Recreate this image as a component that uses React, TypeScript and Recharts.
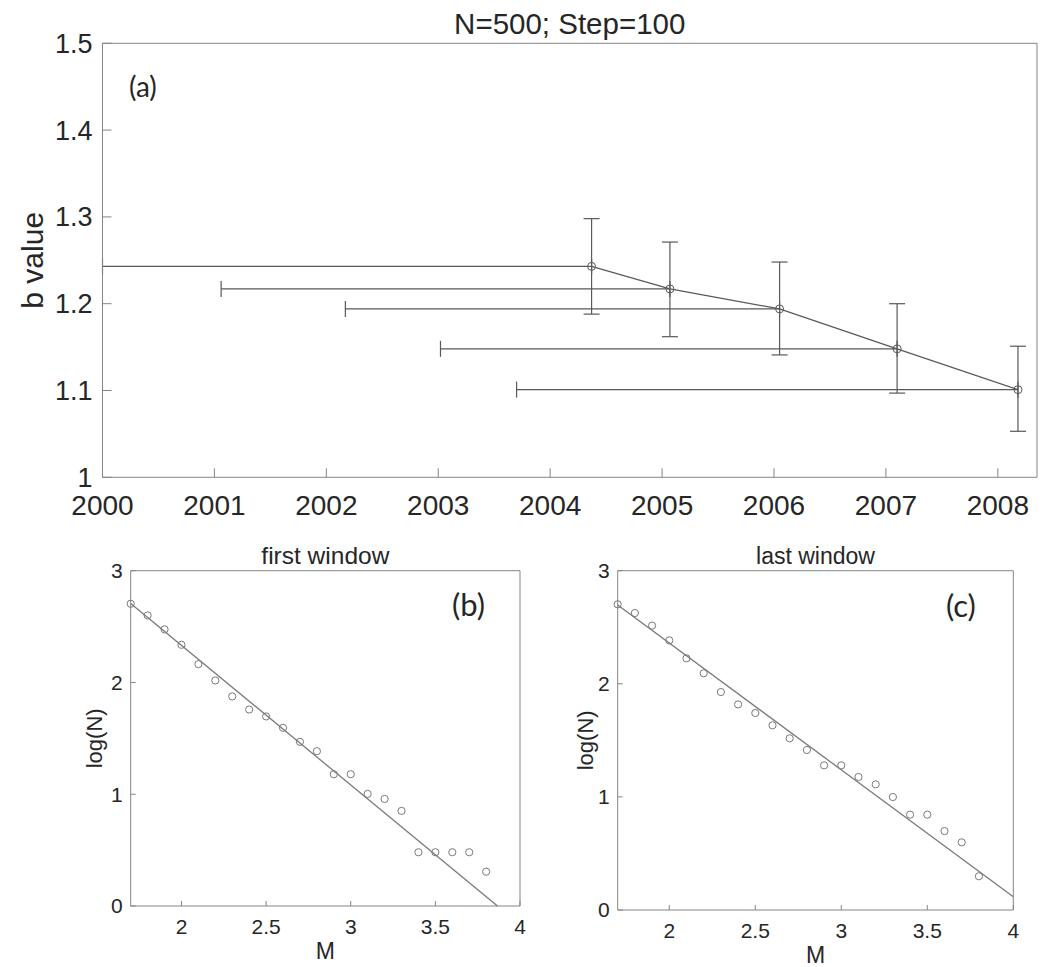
import { ComposedChart, Scatter, XAxis, YAxis, ErrorBar } from 'recharts';

// panel (a): b value per sliding window
const years = [2000, 2001, 2002, 2003, 2004, 2005, 2006, 2007, 2008];
const bTicks = [1, 1.1, 1.2, 1.3, 1.4, 1.5];
const windowEnd = [2004.37, 2005.07, 2006.05, 2007.1, 2008.18];
const windowStart = [2000.0, 2001.06, 2002.17, 2003.02, 2003.7];
const bValue = [1.243, 1.217, 1.194, 1.148, 1.101];
const bUpper = [1.298, 1.271, 1.248, 1.2, 1.151];
const bLower = [1.188, 1.162, 1.141, 1.097, 1.053];

// panels (b) and (c): frequency-magnitude
const magnitudes = [1.7, 1.8, 1.9, 2.0, 2.1, 2.2, 2.3, 2.4, 2.5, 2.6, 2.7, 2.8, 2.9, 3.0, 3.1, 3.2, 3.3, 3.4, 3.5, 3.6, 3.7, 3.8];
const firstLogN = [2.704, 2.6, 2.475, 2.337, 2.164, 2.018, 1.875, 1.758, 1.696, 1.594, 1.469, 1.385, 1.179, 1.179, 1.003, 0.958, 0.851, 0.481, 0.481, 0.481, 0.481, 0.307];
const lastLogN = [2.703, 2.626, 2.514, 2.384, 2.225, 2.093, 1.927, 1.818, 1.742, 1.633, 1.518, 1.415, 1.279, 1.279, 1.176, 1.111, 0.999, 0.843, 0.843, 0.698, 0.598, 0.298];
const firstFitM = [1.7, 3.867];
const firstFitLogN = [2.707, 0];
const lastFitM = [1.7, 4.0];
const lastFitLogN = [2.697, 0.118];
const mTicks = [2, 2.5, 3, 3.5, 4];
const logTicks = [0, 1, 2, 3];

const FRAME = '#858585';
const TEXT = '#262626';
const INK = '#595959';
const SOFT = '#7a7a7a';
const SANS = '"Liberation Sans", Arial, Helvetica, sans-serif';

const topData = windowEnd.map((x, i) => ({
  x,
  y: bValue[i],
  ex: [x - windowStart[i], 0],
  ey: [bValue[i] - bLower[i], bUpper[i] - bValue[i]],
}));

const toPoints = (xs: number[], ys: number[]) => xs.map((x, i) => ({ x, y: ys[i] }));

const blank = () => '';

function OpenCircle(props: any) {
  const { cx, cy, r, color } = props;
  if (cx == null || cy == null) return <g />;
  return <circle cx={cx} cy={cy} r={r} fill="none" stroke={color} strokeWidth={1} />;
}

interface GRProps {
  left: number;
  width: number;
  title: string;
  titleSize: number;
  points: { x: number; y: number }[];
  fit: { x: number; y: number }[];
  yAxisWidth: number;
  rightMargin: number;
  bottomMargin: number;
  yLabelOffset: number;
}

function GRPanel({ left, width, title, titleSize, points, fit, yAxisWidth, rightMargin, bottomMargin, yLabelOffset }: GRProps) {
  const tickStyle = { fill: TEXT, fontSize: 21, fontFamily: SANS };
  return (
    <div style={{ position: 'absolute', left, top: 520 }}>
      <ComposedChart
        width={width}
        height={447}
        margin={{ top: 49.7, right: rightMargin - 1, bottom: bottomMargin, left: 0 }}
      >
        <XAxis
          dataKey="x"
          type="number"
          domain={[1.7, 4]}
          ticks={mTicks}
          interval={0}
          height={35}
          tickSize={-5}
          tickMargin={18}
          stroke={FRAME}
          tick={tickStyle}
          label={{ value: 'M', position: 'bottom', offset: 2, fill: TEXT, fontSize: 23, fontFamily: SANS }}
        />
        <XAxis
          xAxisId="top"
          orientation="top"
          type="number"
          domain={[1.7, 4]}
          ticks={mTicks}
          interval={0}
          height={1}
          tickSize={-5}
          tickFormatter={blank}
          stroke={FRAME}
          label={{ value: title, position: 'top', offset: 6, fill: TEXT, fontSize: titleSize, fontFamily: SANS }}
        />
        <YAxis
          dataKey="y"
          type="number"
          domain={[0, 3]}
          ticks={logTicks}
          interval={0}
          width={yAxisWidth}
          tickSize={-5}
          tickMargin={13}
          stroke={FRAME}
          tick={tickStyle}
          label={{
            value: 'log(N)',
            angle: -90,
            position: 'insideLeft',
            offset: yLabelOffset,
            fill: TEXT,
            fontSize: 22,
            fontFamily: SANS,
            style: { textAnchor: 'middle' },
          }}
        />
        <YAxis
          yAxisId="right"
          orientation="right"
          type="number"
          domain={[0, 3]}
          ticks={logTicks}
          interval={0}
          width={1}
          tickSize={-5}
          tickFormatter={blank}
          stroke={FRAME}
        />
        <Scatter
          data={fit}
          line={{ stroke: SOFT, strokeWidth: 1.3 }}
          shape={() => <g />}
          isAnimationActive={false}
        />
        <Scatter
          data={points}
          shape={(p: any) => <OpenCircle {...p} r={3.6} color={SOFT} />}
          isAnimationActive={false}
        />
      </ComposedChart>
    </div>
  );
}

const letterStyle = {
  position: 'absolute' as const,
  fontFamily: 'Lato, "Open Sans", sans-serif',
  color: TEXT,
  lineHeight: 1,
};

export default function App() {
  return (
    <div
      style={{
        position: 'absolute',
        left: 0,
        top: 0,
        width: 1043,
        height: 967,
        background: '#fff',
        fontFamily: SANS,
        overflow: 'hidden',
      }}
    >
      <div style={{ position: 'absolute', left: 0, top: 0 }}>
        <ComposedChart width={1043} height={530} margin={{ top: 42.3, right: 5, bottom: 0, left: 0 }}>
          <XAxis
            dataKey="x"
            type="number"
            domain={[2000, 2008.35]}
            ticks={years}
            interval={0}
            height={52.7}
            tickSize={-9}
            tickMargin={27}
            stroke={FRAME}
            tick={{ fill: TEXT, fontSize: 28, fontFamily: SANS }}
          />
          <XAxis
            xAxisId="top"
            orientation="top"
            type="number"
            domain={[2000, 2008.35]}
            ticks={years}
            interval={0}
            height={1}
            tickSize={-9}
            tickFormatter={blank}
            stroke={FRAME}
            label={{ value: 'N=500; Step=100', position: 'top', offset: 8, fill: TEXT, fontSize: 29.5, fontFamily: SANS }}
          />
          <YAxis
            dataKey="y"
            type="number"
            domain={[1, 1.5]}
            ticks={bTicks}
            interval={0}
            width={102.5}
            tickSize={-9}
            tickMargin={19}
            stroke={FRAME}
            tick={{ fill: TEXT, fontSize: 27, fontFamily: SANS }}
            label={{
              value: 'b value',
              angle: -90,
              position: 'insideLeft',
              offset: 32,
              fill: TEXT,
              fontSize: 30,
              fontFamily: SANS,
              style: { textAnchor: 'middle' },
            }}
          />
          <YAxis
            yAxisId="right"
            orientation="right"
            type="number"
            domain={[1, 1.5]}
            ticks={bTicks}
            interval={0}
            width={1}
            tickSize={-9}
            tickFormatter={blank}
            stroke={FRAME}
          />
          <Scatter
            data={topData}
            line={{ stroke: INK, strokeWidth: 1.2 }}
            shape={(p: any) => <OpenCircle {...p} r={4} color={INK} />}
            isAnimationActive={false}
          >
            <ErrorBar dataKey="ey" direction="y" width={8} stroke={INK} strokeWidth={1.2} isAnimationActive={false} />
            <ErrorBar dataKey="ex" direction="x" width={8} stroke={INK} strokeWidth={1.2} isAnimationActive={false} />
          </Scatter>
        </ComposedChart>
      </div>

      <GRPanel
        left={0}
        width={540}
        title="first window"
        titleSize={24.5}
        points={toPoints(magnitudes, firstLogN)}
        fit={toPoints(firstFitM, firstFitLogN)}
        yAxisWidth={130.7}
        rightMargin={20}
        bottomMargin={26}
        yLabelOffset={94}
      />
      <GRPanel
        left={540}
        width={503}
        title="last window"
        titleSize={23}
        points={toPoints(magnitudes, lastLogN)}
        fit={toPoints(lastFitM, lastFitLogN)}
        yAxisWidth={77.7}
        rightMargin={29.7}
        bottomMargin={22}
        yLabelOffset={45}
      />

      <div style={{ ...letterStyle, left: 129, top: 72, fontSize: 28 }}>(a)</div>
      <div style={{ ...letterStyle, left: 452, top: 589, fontSize: 31 }}>(b)</div>
      <div style={{ ...letterStyle, left: 946, top: 590, fontSize: 31 }}>(c)</div>
    </div>
  );
}
